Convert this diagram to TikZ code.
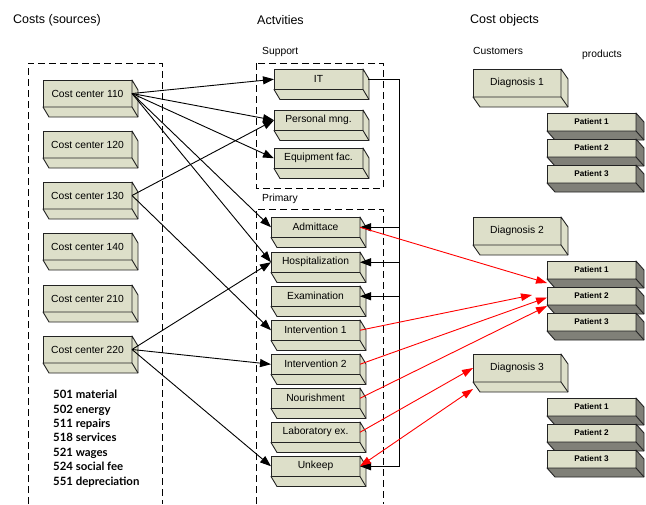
\documentclass[tikz,border=0pt]{standalone}
\usepackage{fontspec}
\setmainfont{Liberation Sans}
\newfontfamily\comicf{Lato}
\usetikzlibrary{arrows.meta,calc}
\definecolor{boxfill}{RGB}{221,223,201}
\definecolor{sidegray}{RGB}{128,128,120}
\definecolor{edgec}{RGB}{35,35,35}
\tikzset{
  front/.style={draw=edgec, line width=0.9pt, fill=boxfill, inner sep=0pt, outer sep=0pt,
    anchor=north west, font=\fontsize{10.3}{12}\selectfont},
  ccbox/.style={front, minimum width=89pt, minimum height=27pt},
  actbox/.style={front, minimum width=89pt, minimum height=20.5pt},
  diagbox/.style={front, minimum width=88pt, minimum height=28pt},
  patbox/.style={front, minimum width=89pt, minimum height=18pt, font=\bfseries\fontsize{8.2}{10}\selectfont},
  face/.style={draw=edgec, line width=0.9pt, line join=round},
  dashbox/.style={draw=black, line width=1pt, dash pattern=on 7pt off 4pt},
  blk/.style={-{Triangle[length=11pt,width=8pt]}, line width=0.9pt, black},
  redarr/.style={-{Triangle[length=11pt,width=7.5pt]}, line width=0.9pt, red},
  title/.style={anchor=west, inner sep=0pt, font=\fontsize{12.5}{14}\selectfont},
  subt/.style={anchor=west, inner sep=0pt, font=\fontsize{10.3}{12}\selectfont},
}
\newcommand\extrude[4]{%
  \path[face, fill=#4] (#1.south west) -- ($(#1.south west)+(#2,#3)$) -- ($(#1.south east)+(#2,#3)$)
    -- ($(#1.north east)+(#2,#3)$) -- (#1.north east) -- (#1.south east) -- cycle;
  \draw[face] (#1.south east) -- ($(#1.south east)+(#2,#3)$);
}
\begin{document}
\begin{tikzpicture}[x=1pt,y=-1pt]
\useasboundingbox[fill=white] (0,0) rectangle (646,504);

% titles
\node[title] (t1) at (13,20) {Costs (sources)};
\node[title] (t2) at (257,20) {Actvities};
\node[title] (t3) at (470,20) {Cost objects};
\node[subt] (tsup) at (262,52) {Support};
\node[subt] (tpri) at (262,199) {Primary};
\node[subt] (tcus) at (473,51) {Customers};
\node[subt] (tpro) at (582,55) {products};

% dashed containers
\draw[dashbox] (28,504) -- (28,63) -- (162,63) -- (162,504);
\draw[dashbox] (256,63) rectangle (383,188);
\draw[dashbox] (256,504) -- (256,209) -- (383,209) -- (383,504);

% cost centers
\node[ccbox] (c110) at (43,80) {Cost center 110}; \extrude{c110}{6}{10}{boxfill}
\node[ccbox] (c120) at (43,131) {Cost center 120}; \extrude{c120}{6}{10}{boxfill}
\node[ccbox] (c130) at (43,182) {Cost center 130}; \extrude{c130}{6}{10}{boxfill}
\node[ccbox] (c140) at (43,233) {Cost center 140}; \extrude{c140}{6}{10}{boxfill}
\node[ccbox] (c210) at (43,285) {Cost center 210}; \extrude{c210}{6}{10}{boxfill}
\node[ccbox] (c220) at (43,336) {Cost center 220}; \extrude{c220}{6}{10}{boxfill}

\node[anchor=north west, align=left, inner sep=0pt,
  font=\comicf\bfseries\fontsize{11.4}{14.4}\selectfont] (list) at (53,390)
  {501 material\\502 energy\\511 repairs\\518 services\\521 wages\\524 social fee\\551 depreciation};

% support activities
\node[actbox] (it) at (274,69) {IT}; \extrude{it}{6}{10}{boxfill}
\node[actbox] (pm) at (274,110) {Personal mng.}; \extrude{pm}{6}{10}{boxfill}
\node[actbox] (eq) at (274,148) {Equipment fac.}; \extrude{eq}{6}{10}{boxfill}

% primary activities
\node[actbox] (adm) at (271,217) {Admittace}; \extrude{adm}{6}{10}{boxfill}
\node[actbox] (hos) at (271,252) {Hospitalization}; \extrude{hos}{6}{10}{boxfill}
\node[actbox] (exa) at (271,286) {Examination}; \extrude{exa}{6}{10}{boxfill}
\node[actbox] (in1) at (271,320) {Intervention 1}; \extrude{in1}{6}{10}{boxfill}
\node[actbox] (in2) at (271,354) {Intervention 2}; \extrude{in2}{6}{10}{boxfill}
\node[actbox] (nou) at (271,388) {Nourishment}; \extrude{nou}{6}{10}{boxfill}
\node[actbox] (lab) at (271,422) {Laboratory ex.}; \extrude{lab}{6}{10}{boxfill}
\node[actbox] (unk) at (271,456) {Unkeep}; \extrude{unk}{6}{10}{boxfill}

% cost objects
\node[diagbox] (d1) at (473,69) {Diagnosis 1}; \extrude{d1}{7}{10}{boxfill}
\node[diagbox] (d2) at (473,217) {Diagnosis 2}; \extrude{d2}{7}{10}{boxfill}
\node[diagbox] (d3) at (473,354) {Diagnosis 3}; \extrude{d3}{7}{10}{boxfill}

\node[patbox] (a1) at (547,113) {Patient 1}; \extrude{a1}{8}{9}{sidegray}
\node[patbox] (a2) at (547,139) {Patient 2}; \extrude{a2}{8}{9}{sidegray}
\node[patbox] (a3) at (547,165) {Patient 3}; \extrude{a3}{8}{9}{sidegray}
\node[patbox] (b1) at (547,261) {Patient 1}; \extrude{b1}{8}{9}{sidegray}
\node[patbox] (b2) at (547,287) {Patient 2}; \extrude{b2}{8}{9}{sidegray}
\node[patbox] (b3) at (547,313) {Patient 3}; \extrude{b3}{8}{9}{sidegray}
\node[patbox] (e1) at (547,398) {Patient 1}; \extrude{e1}{8}{9}{sidegray}
\node[patbox] (e2) at (547,424) {Patient 2}; \extrude{e2}{8}{9}{sidegray}
\node[patbox] (e3) at (547,450) {Patient 3}; \extrude{e3}{8}{9}{sidegray}

% cost center -> activity
\draw[blk] (c110.east) -- (it.west);
\draw[blk] (c110.east) -- (pm.west);
\draw[blk] (c110.east) -- (eq.west);
\draw[blk] (c110.east) -- (adm.west);
\draw[blk] (c110.east) -- (hos.west);
\draw[blk] (c130.east) -- (pm.west);
\draw[blk] (c130.east) -- (in1.west);
\draw[blk] (c220.east) -- (hos.west);
\draw[blk] (c220.east) -- (in2.west);
\draw[blk] (c220.east) -- (unk.west);

% IT distribution bus
\coordinate (bus) at (399,79.25);
\draw[blk] ([xshift=5pt]it.east) -- (bus) -- (bus |- unk.east) -- (unk.east);
\draw[blk] (bus |- adm.east) -- (adm.east);
\draw[blk] (bus |- hos.east) -- (hos.east);
\draw[blk] (bus |- exa.east) -- (exa.east);

% activity -> cost objects
\draw[redarr] (adm.east) -- ([yshift=4pt]b2.north west);
\draw[redarr] (in1.east) -- ([xshift=-15pt,yshift=1pt]b2.west);
\draw[redarr] (in2.east) -- ([yshift=-1.5pt]b2.west);
\draw[redarr] (nou.east) -- ([yshift=-1pt]b2.south west);
\draw[redarr] (lab.east) -- (d3.west);
\draw[redarr, {Triangle[length=11pt,width=7.5pt]}-{Triangle[length=11pt,width=7.5pt]}] (unk.east) -- ([yshift=-7pt]d3.south west);
\end{tikzpicture}
\end{document}
